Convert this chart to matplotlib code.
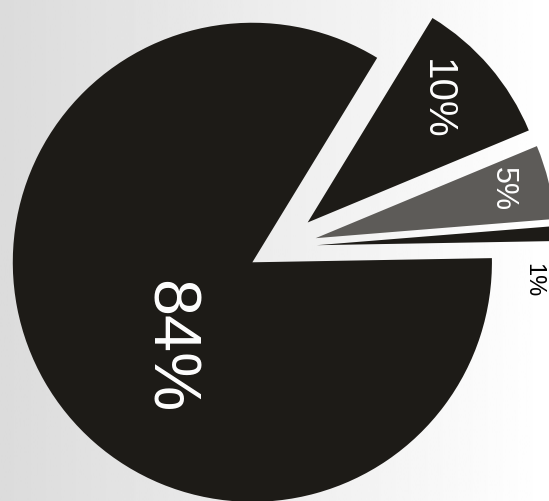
import numpy as np
import matplotlib.pyplot as plt

# udzialy (procenty), kolejnosc zgodnie z ruchem wskazowek zegara
shares = [84, 10, 5, 1]
labels = [f'{s}%' for s in shares]
slice_colors = ['#1d1b17', '#1d1b17', '#5d5b58', '#1d1b17']
explode = [0.13, 0.16, 0.16, 0.16]

# pozycje i style etykiet
label_pos = [(-0.47, -0.42), (0.67, 0.63), (0.95, 0.25), (1.076, -0.136)]
label_size = [48, 29, 22, 17]
label_color = ['white', 'white', 'white', 'black']

plt.rcParams['font.family'] = ['Liberation Sans', 'DejaVu Sans']

fig = plt.figure(figsize=(5.49, 5.02), dpi=100)
ax = fig.add_axes([0, 0, 1, 1])

xlim = (-1.182, 1.144)
ylim = (-1.076, 1.051)

# tlo - lekko szare po lewej, biale po prawej (jak skan)
grad = np.linspace(0.86, 1.0, 256).reshape(1, -1)
ax.imshow(grad, cmap='gray', vmin=0, vmax=1, aspect='auto',
          extent=(xlim[0], xlim[1], ylim[0], ylim[1]), zorder=0)

ax.pie(shares, colors=slice_colors, explode=explode, startangle=1,
       counterclock=False, radius=1.015,
       wedgeprops=dict(linewidth=0))

for txt, (x, y), fs, c in zip(labels, label_pos, label_size, label_color):
    ax.text(x, y, txt, fontsize=fs, color=c, rotation=-90,
            ha='center', va='center', zorder=3)

ax.set_xlim(*xlim)
ax.set_ylim(*ylim)
ax.set_aspect('auto')
ax.axis('off')

fig.savefig('out.png', dpi=100)
